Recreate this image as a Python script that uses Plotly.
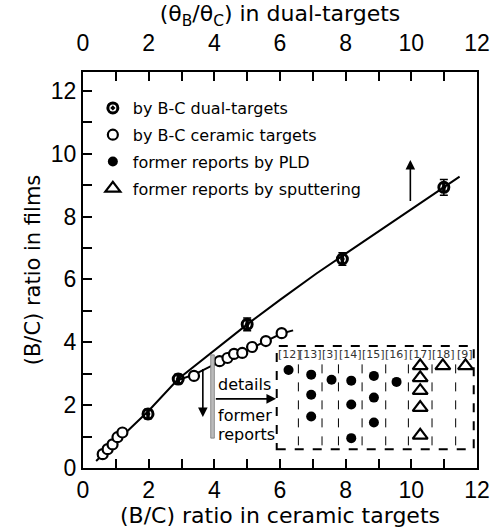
import plotly.graph_objects as go

# ---- data ----
dual_x = [1.98, 2.9, 5.0, 7.9, 10.99]
dual_y = [1.72, 2.83, 4.57, 6.65, 8.93]
dual_err = [0.15, 0.15, 0.2, 0.2, 0.25]

ceramic_x = [0.6, 0.75, 0.9, 1.05, 1.2, 3.38, 4.16, 4.4, 4.6, 4.85, 5.15, 5.57, 6.05]
ceramic_y = [0.44, 0.6, 0.75, 0.98, 1.13, 2.93, 3.4, 3.5, 3.63, 3.66, 3.85, 4.04, 4.29]

dual_fit_x = [0.4, 1.0, 2.0, 2.9, 4.0, 5.0, 6.0, 7.1, 8.0, 9.0, 10.0, 11.47]
dual_fit_y = [0.22, 0.83, 1.82, 2.83, 3.73, 4.57, 5.35, 6.18, 6.82, 7.53, 8.24, 9.27]

ceramic_fit_x = [2.9, 3.4, 4.2, 5.0, 5.6, 6.05, 6.4]
ceramic_fit_y = [2.8, 2.98, 3.4, 3.75, 4.05, 4.28, 4.38]

# inset: former reports
ref_labels = ["[12]", "[13]", "[3]", "[14]", "[15]", "[16]", "[17]", "[18]", "[9]"]
ref_label_x = [6.29, 6.92, 7.51, 8.14, 8.86, 9.55, 10.27, 10.99, 11.62]
ref_sep_x = [6.56, 7.28, 7.78, 8.5, 9.22, 9.91, 10.63, 11.35]

pld_x = [6.26, 6.95, 6.95, 6.95, 7.57, 8.17, 8.17, 8.17, 8.86, 8.86, 8.86, 9.55]
pld_y = [3.12, 2.97, 2.33, 1.64, 2.81, 2.78, 2.02, 0.95, 2.93, 2.24, 1.45, 2.74]

sput_x = [10.27, 10.27, 10.27, 10.27, 10.27, 10.96, 11.65]
sput_y = [3.25, 2.87, 2.46, 1.92, 1.04, 3.25, 3.25]

FONT = "Liberation Sans, Arial, sans-serif"
WIDE = "DejaVu Sans, sans-serif"

fig = go.Figure()

# fit lines
fig.add_trace(go.Scatter(x=dual_fit_x, y=dual_fit_y, mode="lines",
                         line=dict(color="black", width=2), showlegend=False, hoverinfo="skip"))
fig.add_trace(go.Scatter(x=ceramic_fit_x, y=ceramic_fit_y, mode="lines",
                         line=dict(color="black", width=2), showlegend=False, hoverinfo="skip"))

# dual targets (half-filled look)
fig.add_trace(go.Scatter(x=dual_x, y=dual_y, mode="markers", name="by B-C dual-targets",
                         legendgroup="a",
                         marker=dict(symbol="circle-open-dot", size=10, color="black",
                                     line=dict(color="black", width=3)),
                         error_y=dict(type="data", array=dual_err, color="black",
                                      thickness=1.5, width=4)))
fig.add_trace(go.Scatter(x=dual_x, y=dual_y, mode="markers", showlegend=False,
                         legendgroup="a",
                         marker=dict(symbol="line-ns", size=7,
                                     line=dict(color="black", width=3.5))))

# ceramic targets
fig.add_trace(go.Scatter(x=ceramic_x, y=ceramic_y, mode="markers", name="by B-C ceramic targets",
                         legendgroup="b",
                         marker=dict(symbol="circle", size=10, color="white",
                                     line=dict(color="black", width=2.2))))

# PLD
fig.add_trace(go.Scatter(x=pld_x, y=pld_y, mode="markers", name="former reports by PLD",
                         legendgroup="c",
                         marker=dict(symbol="circle", size=10, color="black")))
# sputtering
fig.add_trace(go.Scatter(x=sput_x, y=sput_y, mode="markers", name="former reports by sputtering",
                         legendgroup="d",
                         marker=dict(symbol="triangle-up-open", size=13, color="black",
                                     line=dict(color="black", width=2.2))))

# dummy trace for top axis
fig.add_trace(go.Scatter(x=[0, 12], y=[0, 0], xaxis="x2", mode="markers",
                         marker=dict(opacity=0), showlegend=False, hoverinfo="skip"))

shapes = []
# inset dashed box
shapes.append(dict(type="rect", xref="x", yref="y", x0=5.9, x1=11.9, y0=0.6, y1=3.88,
                   line=dict(color="black", width=2, dash="dash")))
for sx in ref_sep_x:
    shapes.append(dict(type="line", xref="x", yref="y", x0=sx, x1=sx, y0=0.72, y1=3.45,
                       line=dict(color="black", width=1, dash="dash")))
# gray bar
shapes.append(dict(type="rect", xref="x", yref="y", x0=3.89, x1=4.0, y0=0.95, y1=3.6,
                   line=dict(color="#777", width=0.8), fillcolor="#bbbbbb"))

annotations = []
for lx, lt in zip(ref_label_x, ref_labels):
    annotations.append(dict(x=lx, y=3.6, xref="x", yref="y", text=lt, showarrow=False,
                            font=dict(family=WIDE, size=11, color="#333")))
# arrows
annotations.append(dict(x=9.97, y=9.8, ax=9.97, ay=8.45, xref="x", yref="y", axref="x", ayref="y",
                        text="", showarrow=True, arrowhead=2, arrowsize=1.2, arrowwidth=1.6,
                        arrowcolor="black"))
annotations.append(dict(x=3.65, y=1.62, ax=3.65, ay=3.2, xref="x", yref="y", axref="x", ayref="y",
                        text="", showarrow=True, arrowhead=2, arrowsize=1.2, arrowwidth=1.6,
                        arrowcolor="black"))
annotations.append(dict(x=5.88, y=2.2, ax=4.0, ay=2.2, xref="x", yref="y", axref="x", ayref="y",
                        text="", showarrow=True, arrowhead=2, arrowsize=1.2, arrowwidth=1.6,
                        arrowcolor="black"))
for t, yy in [("details", 2.66), ("former", 1.67), ("reports", 1.07)]:
    annotations.append(dict(x=4.06, y=yy, xref="x", yref="y", text=t, showarrow=False,
                            xanchor="left", font=dict(family=WIDE, size=16, color="black")))

axis_common = dict(showgrid=False, zeroline=False, showline=True, linecolor="black", linewidth=2,
                   ticks="inside", ticklen=9, tickwidth=2, tickcolor="black",
                   tickfont=dict(family=FONT, size=23, color="black"),
                   minor=dict(dtick=1, ticks="inside", ticklen=9, tickwidth=2, tickcolor="black"))

fig.update_layout(
    width=502, height=530,
    margin=dict(l=83, r=18, t=72, b=59),
    plot_bgcolor="white", paper_bgcolor="white",
    font=dict(family=FONT, color="black"),
    xaxis=dict(range=[0, 12], dtick=2, tick0=0, mirror=True,
               title=dict(text="(B/C) ratio in ceramic targets", font=dict(family=WIDE, size=22),
                          standoff=0),
               **axis_common),
    xaxis2=dict(range=[0, 12], dtick=2, tick0=0, overlaying="x", side="top",
                ticklabelstandoff=10,
                title=dict(text="(θ<sub>B</sub>/θ<sub>C</sub>) in dual-targets",
                           font=dict(family=WIDE, size=22), standoff=0),
                **axis_common),
    yaxis=dict(range=[0, 12.6], dtick=2, tick0=0, mirror=True,
               title=dict(text="(B/C) ratio in films", font=dict(family=WIDE, size=21), standoff=4),
               **axis_common),
    legend=dict(x=0.025, y=0.952, xanchor="left", yanchor="top", bgcolor="rgba(0,0,0,0)",
                font=dict(family=WIDE, size=16, color="black"), itemwidth=30,
                tracegroupgap=3, traceorder="grouped"),
    shapes=shapes, annotations=annotations,
)

fig.write_html("out.html")
